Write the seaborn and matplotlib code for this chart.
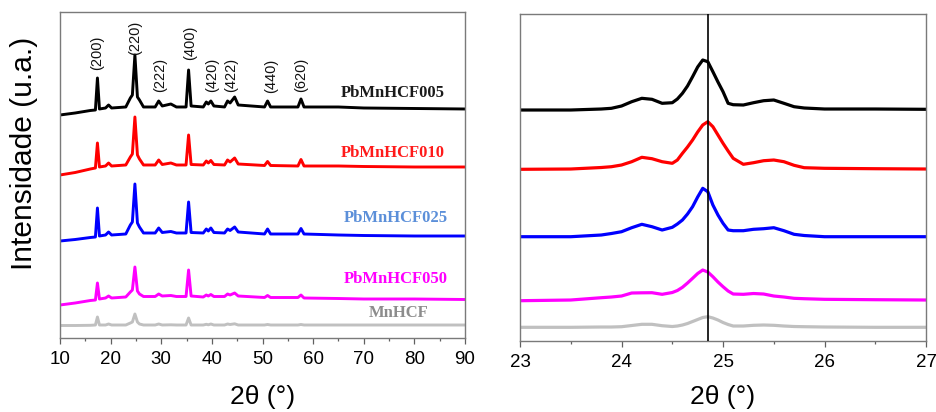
import numpy as np
import pandas as pd
import matplotlib
matplotlib.use("Agg")
import matplotlib.pyplot as plt
from matplotlib.ticker import MultipleLocator
import seaborn as sns

# ---------------- full-range patterns (2θ = 10–90°), stacked intensities ----------------
two_theta_full = [10, 13, 16, 17.0, 17.4, 17.8, 19.0, 19.6, 20.2, 23.0, 23.9, 24.3, 24.8,
                  25.3, 25.7, 26.5, 28.8, 29.5, 30.2, 31.9, 33, 34.9, 35.4, 35.9, 38.3,
                  38.9, 39.3, 39.8, 40.4, 42.5, 43.1, 43.6, 44.5, 45.2, 50.4, 51.0, 51.6,
                  57.0, 57.6, 58.2, 65, 70, 80, 90]

pbmnhcf005_full = [223, 225, 227.5, 228, 260, 229, 230, 233, 230, 231, 240, 243, 283,
                   241, 238, 231, 231, 237, 232, 234, 231, 231, 268, 232, 231,
                   236, 234, 237, 232, 231, 237, 235, 241, 233, 231, 237, 231,
                   231, 239, 231, 231, 230, 229.5, 229]
pbmnhcf010_full = [163, 165.5, 169, 170, 195, 171, 172, 175, 172, 173, 181, 184, 221,
                   183, 179, 173, 173, 178, 173.5, 175, 173, 173, 203, 173.5, 173,
                   177, 175, 177.5, 173.5, 173, 178, 176, 180, 174, 172.5, 176.5, 172.5,
                   172, 178.5, 172, 172, 171.5, 171, 171]
pbmnhcf025_full = [97, 98.5, 100.5, 101, 130, 102, 103, 106, 103, 104, 113, 116, 154,
                   115, 111, 105, 105, 110, 105.5, 106.5, 105, 105, 136, 105.5, 105,
                   109, 107, 110, 105.5, 105, 109, 107.5, 111, 106, 104, 109, 104,
                   104, 109.5, 104, 103, 102.5, 102, 102]
pbmnhcf050_full = [33, 35, 37.5, 38, 55, 39, 40, 42, 40, 41, 46, 48, 71,
                   47, 44, 41.5, 41.5, 44, 42, 42.5, 41.5, 41.5, 68, 42, 41,
                   43, 42, 43.5, 41.5, 41.5, 44, 43, 45, 42, 40.5, 42.5, 40.5,
                   40.5, 43, 40, 39.5, 39, 39, 38.5]
mnhcf_full = [12.5, 12.5, 12.7, 13, 21, 13, 13, 14, 13, 13, 15, 16, 24,
              16, 14, 13, 13, 14, 13, 13.2, 13, 13, 20, 13, 13,
              13.7, 13.2, 14, 13, 13, 14, 13.5, 14.2, 13, 13, 13.5, 13,
              13, 13.5, 13, 13, 13, 13, 13]

# ---------------- detail around the (220) reflection (2θ = 23–27°) ----------------
two_theta_zoom = [23.0, 23.5, 23.8, 23.9, 24.0, 24.1, 24.2, 24.3, 24.4, 24.5, 24.55, 24.6,
                  24.65, 24.7, 24.75, 24.8, 24.85, 24.9, 24.95, 25.0, 25.05, 25.1, 25.2,
                  25.3, 25.4, 25.5, 25.6, 25.7, 25.8, 26.0, 26.5, 27.0]

pbmnhcf005_zoom = [231, 231, 232, 232.7, 235, 239.3, 242.7, 241.7, 237.7, 238.3, 242, 247.7,
                   255, 264.3, 274, 281, 279.3, 269.3, 259, 249.3, 237.7, 236.3, 236,
                   238.3, 240.3, 241, 237.7, 234.3, 233, 232, 232, 231.7]
pbmnhcf010_zoom = [171.7, 172, 173.5, 174.3, 176, 179.3, 183.7, 182.3, 179.3, 177.7, 181, 187.7,
                   194, 201, 209, 216, 219.3, 214.3, 206, 197.7, 190, 182.7, 176.7,
                   178.3, 180.3, 181, 179.3, 175.7, 173.3, 172.7, 172.3, 172]
pbmnhcf025_zoom = [104.3, 104.3, 106, 107.5, 109.3, 113.3, 116.7, 114.3, 111, 113.7, 117, 121,
                   127, 134.3, 144, 152.7, 149.3, 136, 126, 117.7, 111, 110.3, 110.3,
                   111.7, 112.3, 113.3, 110.3, 106.7, 105.5, 104.3, 104.3, 104.3]
pbmnhcf050_zoom = [40.3, 41, 43.3, 44, 45, 48, 48.2, 48.3, 46.7, 48.5, 50.5, 53.7,
                   58, 62.7, 67.5, 71, 69, 64.3, 59, 54.3, 50, 47, 46.7,
                   47.5, 47, 45, 44, 42.7, 42.3, 41.7, 41.3, 41]
mnhcf_zoom = [13.7, 13.7, 14, 14, 14.3, 15.5, 16.7, 16.7, 15.3, 14.5, 15, 16,
              17.5, 19.5, 21.5, 23.5, 24.3, 23, 21, 18.5, 16.5, 15, 15,
              15.7, 16, 15.7, 15, 14.5, 14.3, 14, 13.7, 13.7]

reference_line = 24.85

samples = ["PbMnHCF005", "PbMnHCF010", "PbMnHCF025", "PbMnHCF050", "MnHCF"]
line_colors = ["#000000", "#ff0000", "#0000ff", "#ff00ff", "#c0c0c0"]
label_colors = ["#1a1a1a", "#ff1a1a", "#5b8fd9", "#ff00ff", "#8c8c8c"]
label_x = [86.05, 86.05, 86.6, 86.6, 82.7]
label_y = [241, 181, 116, 55, 21]

miller = ["(200)", "(220)", "(222)", "(400)", "(420)", "(422)", "(440)", "(620)"]
miller_x = [17.25, 24.8, 29.75, 35.7, 39.97, 43.9, 51.7, 57.7]
miller_y = [268, 283, 246, 278, 246, 246, 245, 246]

full_sets = [pbmnhcf005_full, pbmnhcf010_full, pbmnhcf025_full, pbmnhcf050_full, mnhcf_full]
zoom_sets = [pbmnhcf005_zoom, pbmnhcf010_zoom, pbmnhcf025_zoom, pbmnhcf050_zoom, mnhcf_zoom]

full_df = pd.concat([pd.DataFrame({"two_theta": two_theta_full, "intensity": v, "sample": s})
                     for s, v in zip(samples, full_sets)], ignore_index=True)
zoom_df = pd.concat([pd.DataFrame({"two_theta": two_theta_zoom, "intensity": v, "sample": s})
                     for s, v in zip(samples, zoom_sets)], ignore_index=True)

sns.set_style("white")
plt.rcParams["font.family"] = ["Liberation Sans", "DejaVu Sans"]

fig = plt.figure(figsize=(9.37, 4.12), dpi=100)
ax1 = fig.add_axes([0.0640, 0.1796, 0.4323, 0.7913])
ax2 = fig.add_axes([0.5550, 0.1723, 0.4333, 0.7937])

palette = dict(zip(samples, line_colors))
# draw the bottom trace first so the darker patterns stay on top
for s in samples[::-1]:
    sns.lineplot(data=full_df[full_df["sample"] == s], x="two_theta", y="intensity",
                 color=palette[s], lw=2.1, sort=False, estimator=None, ax=ax1, legend=False)
    sns.lineplot(data=zoom_df[zoom_df["sample"] == s], x="two_theta", y="intensity",
                 color=palette[s], lw=2.3, sort=False, estimator=None, ax=ax2, legend=False)

ax2.axvline(reference_line, color="black", lw=1.2, zorder=5)

for name, c, x, y in zip(samples, label_colors, label_x, label_y):
    ax1.text(x, y, name, color=c, ha="right", va="baseline", fontsize=12,
             fontweight="bold", family=["Liberation Serif", "DejaVu Serif"])

for hkl, x, y in zip(miller, miller_x, miller_y):
    ax1.text(x, y, hkl, rotation=90, ha="center", va="bottom", fontsize=10.5, color="#111111")

ax1.set_xlim(10, 90)
ax1.set_ylim(0, 326)
ax1.xaxis.set_major_locator(MultipleLocator(10))
ax1.xaxis.set_minor_locator(MultipleLocator(5))
ax2.set_xlim(23, 27)
ax2.set_ylim(0, 327)
ax2.xaxis.set_major_locator(MultipleLocator(1))
ax2.xaxis.set_minor_locator(MultipleLocator(0.5))

for ax, pad in ((ax1, 12), (ax2, 10)):
    ax.set_yticks([])
    ax.set_ylabel("")
    ax.set_xlabel("2θ (°)", fontsize=19, labelpad=pad, color="black")
    ax.tick_params(axis="x", which="major", direction="out", length=4.3, width=0.9,
                   color="#606060", labelsize=13.5, labelcolor="black", pad=5, bottom=True)
    ax.tick_params(axis="x", which="minor", direction="out", length=2.2, width=0.9,
                   color="#606060", bottom=True)
    for sp in ax.spines.values():
        sp.set_visible(True)
        sp.set_color("#7a7a7a")
        sp.set_linewidth(1.0)

fig.text(0.026, 0.627, "Intensidade (u.a.)", rotation=90, ha="center", va="center",
         fontsize=21.5, color="black")

fig.savefig("out.png", dpi=100, facecolor="white")
